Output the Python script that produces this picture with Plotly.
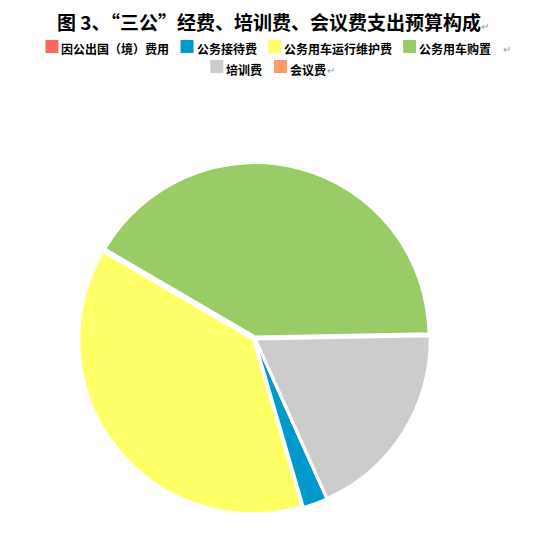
import plotly.graph_objects as go

categories = ["因公出国（境）费用", "公务接待费", "公务用车运行维护费", "公务用车购置", "培训费", "会议费"]
shares = [0.0, 2.2, 38.0, 41.3, 18.6, 0.0]
colors = ["#FF6666", "#0099CC", "#FFFF66", "#99CC66", "#CCCCCC", "#FF9966"]

FONT = "Noto Sans CJK SC, Microsoft YaHei, sans-serif"
W, H = 555, 545
OFF = 8  # the page body margin shifts the figure by 8px; targets below are window pixels
PULL = 0.012

# pie: centre and outer size in window pixels
PIE_CX, PIE_CY, PIE_D = 254.5, 338.5, 351
l = PIE_CX - OFF - PIE_D / 2
t = PIE_CY - OFF - PIE_D / 2
M = dict(l=l, r=W - l - PIE_D, t=t, b=H - t - PIE_D)

fig = go.Figure(
    go.Pie(
        labels=categories,
        values=shares,
        sort=False,
        direction="clockwise",
        rotation=155.8,
        marker=dict(colors=colors, line=dict(color="#FFFFFF", width=2)),
        pull=[PULL] * len(categories),
        textinfo="none",
        hoverinfo="label+percent",
        domain=dict(x=[0, 1], y=[0, 1]),
        showlegend=False,
    )
)

# ---- legend drawn as swatches + labels (two centred rows, like the original) ----
pw = W - M["l"] - M["r"]
ph = H - M["t"] - M["b"]


def px_x(px):
    return (px - OFF - M["l"]) / pw


def px_y(py):
    return (H - M["b"] - (py - OFF)) / ph


legend_rows = [[0, 1, 2, 3], [4, 5]]
row_swatch_y = [46.5, 66.5]      # swatch centre (window px from top)
row_text_y = [48.0, 69.0]        # label centre (window px from top)
SW = 13
CHAR_W = 11.9
SW_GAP = 2
ITEM_GAP = 13
ROW_CENTER = 267.5

shapes = []
annotations = []
row_ends = []
for r, row in enumerate(legend_rows):
    widths = [SW + SW_GAP + CHAR_W * len(categories[i]) for i in row]
    total = sum(widths) + ITEM_GAP * (len(row) - 1)
    x = ROW_CENTER - total / 2
    for i, w in zip(row, widths):
        shapes.append(dict(
            type="rect", xref="paper", yref="paper",
            x0=px_x(x), x1=px_x(x + SW),
            y0=px_y(row_swatch_y[r] + SW / 2), y1=px_y(row_swatch_y[r] - SW / 2),
            fillcolor=colors[i], line=dict(width=0), layer="above",
        ))
        annotations.append(dict(
            text="<b>" + categories[i] + "</b>", xref="paper", yref="paper",
            x=px_x(x + SW + SW_GAP), y=px_y(row_text_y[r]),
            xanchor="left", yanchor="middle", showarrow=False,
            font=dict(size=12, family=FONT, color="#000000"), borderpad=0,
        ))
        x += w + ITEM_GAP
    row_ends.append(x - ITEM_GAP)

# Word paragraph marks after each legend line
annotations.append(dict(
    text="↵", xref="paper", yref="paper", x=px_x(row_ends[0] + 12), y=px_y(row_text_y[0]),
    xanchor="left", yanchor="middle", showarrow=False,
    font=dict(size=10, family=FONT, color="#9A9A9A"), borderpad=0,
))
annotations.append(dict(
    text="↵", xref="paper", yref="paper", x=px_x(row_ends[1] + 1), y=px_y(row_text_y[1]),
    xanchor="left", yanchor="middle", showarrow=False,
    font=dict(size=10, family=FONT, color="#9A9A9A"), borderpad=0,
))

fig.update_layout(
    width=W,
    height=H,
    margin=M,
    paper_bgcolor="#FFFFFF",
    plot_bgcolor="#FFFFFF",
    font=dict(family=FONT, color="#000000"),
    title=dict(
        text="<b>图 3、“三公”经费、培训费、会议费支出预算构成</b><span style='font-size:10px;color:#9A9A9A'>↵</span>",
        x=(273 - OFF) / W,
        xanchor="center",
        xref="container",
        y=1 - (23 - OFF) / H,
        yanchor="middle",
        yref="container",
        font=dict(size=19, family=FONT, color="#000000"),
    ),
    showlegend=False,
    shapes=shapes,
    annotations=annotations,
)

fig.write_html("out.html")
